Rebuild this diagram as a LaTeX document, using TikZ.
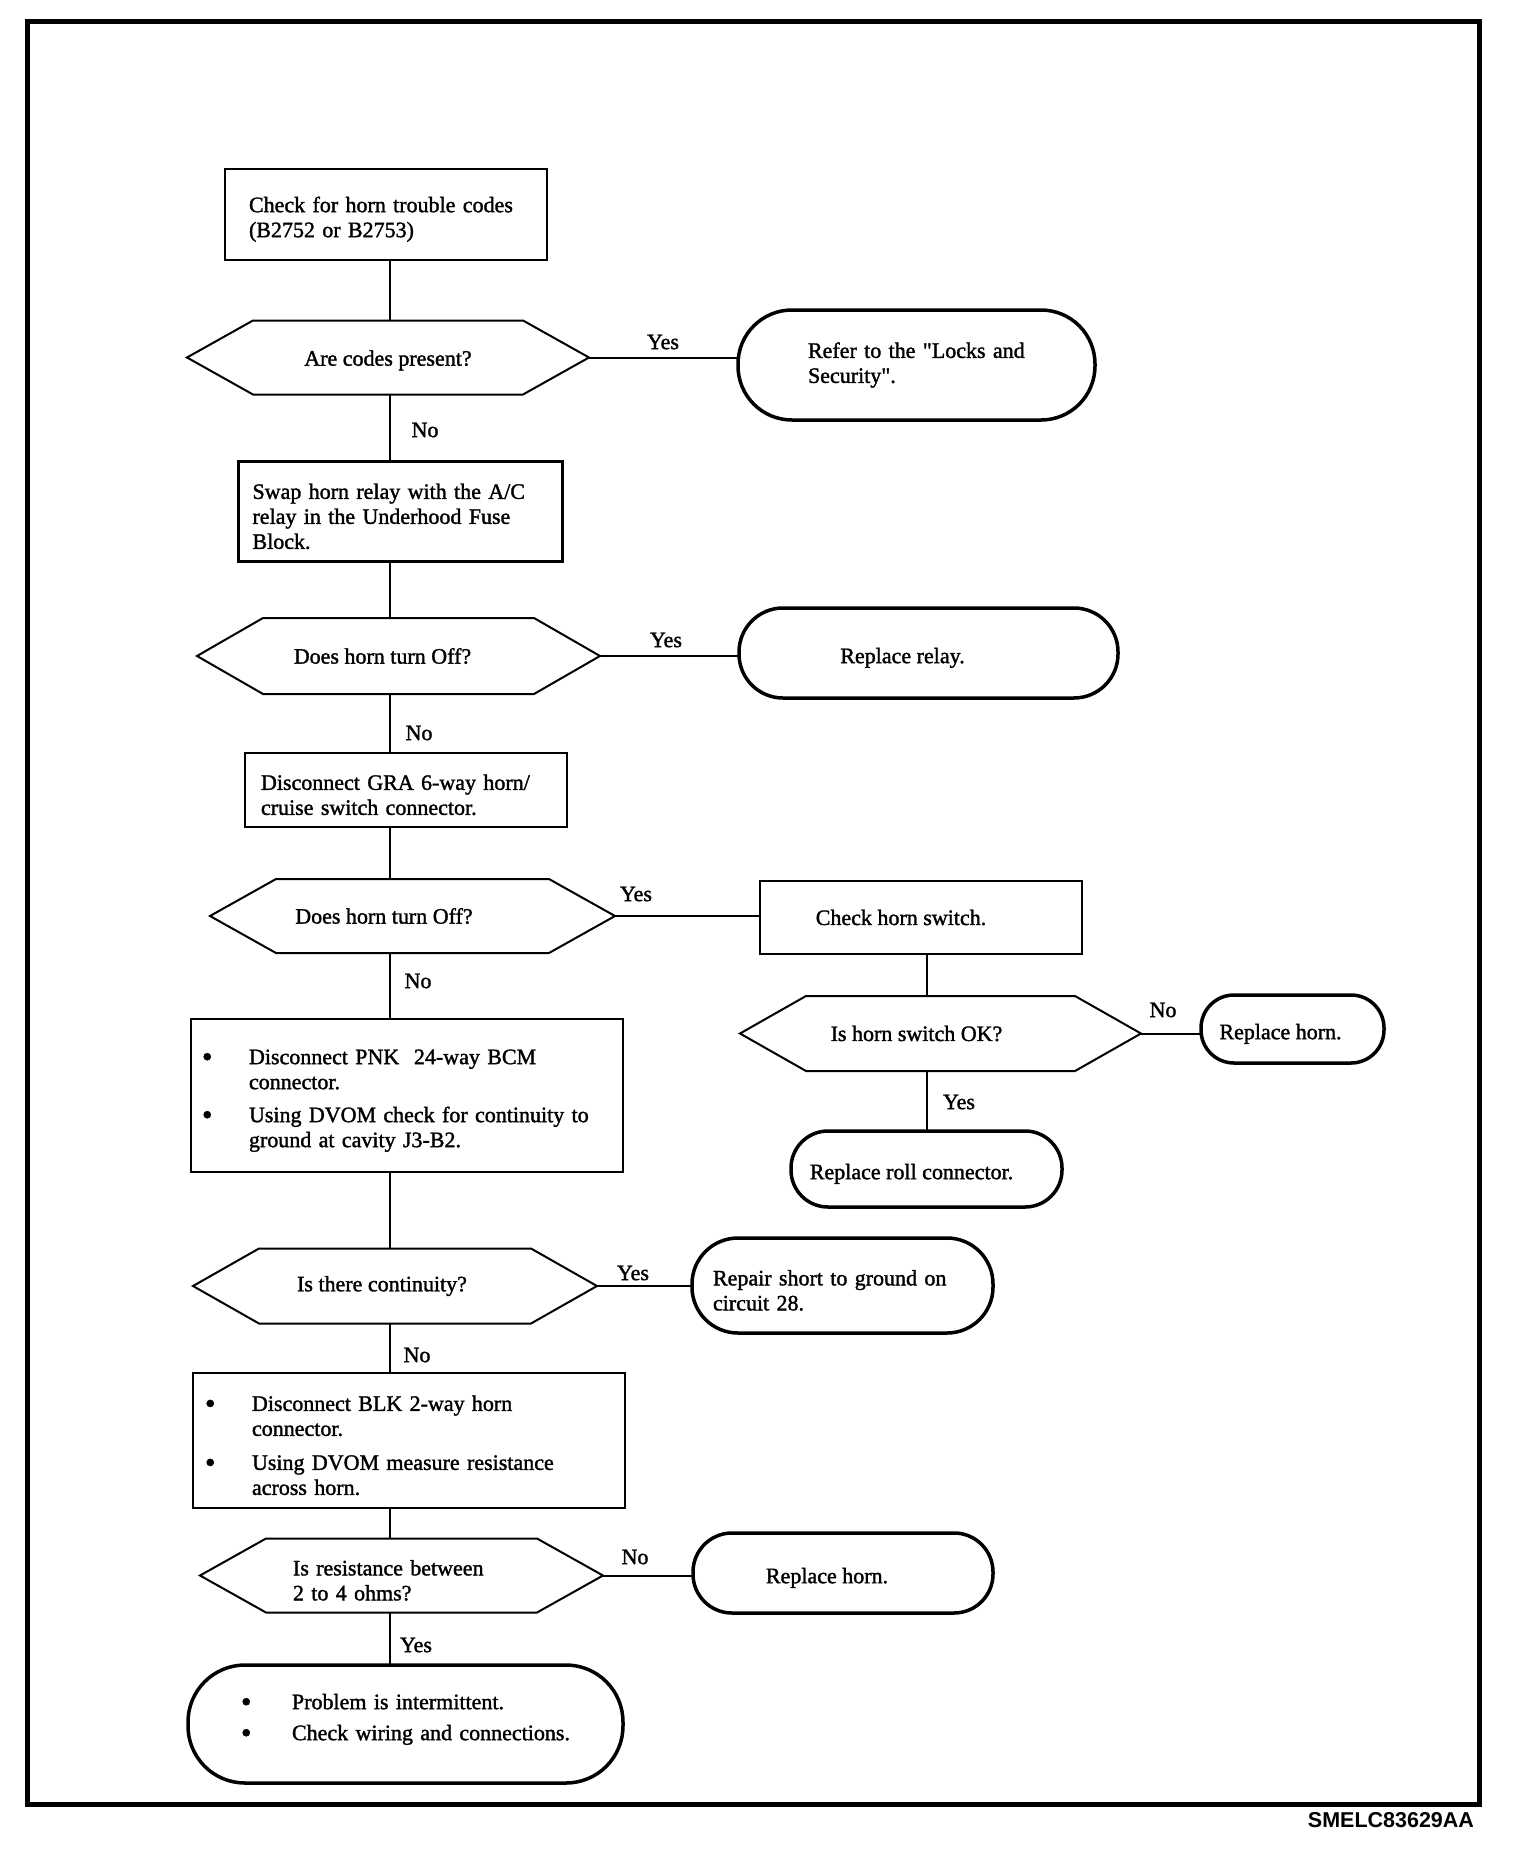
\documentclass[tikz,border=0pt]{standalone}
\usepackage{fontspec}
\setmainfont{Liberation Serif}[FakeBold=1.5, Ligatures=TeXOff]
\newfontfamily\tagfont{Liberation Sans}
\usetikzlibrary{calc}

\newcommand\hexdraw[1]{\draw[hexline] (#1.west) -- ([xshift=66pt]#1.north west) -- ([xshift=-66pt]#1.north east) -- (#1.east) -- ([xshift=-66pt]#1.south east) -- ([xshift=66pt]#1.south west) -- cycle;}
\newcommand\bul[1][47pt]{\makebox[#1][l]{\raisebox{-2.5pt}{\fontsize{30}{30}\selectfont\textbullet}}}
\newcommand\hang[1][47pt]{\hspace*{#1}}

\begin{document}
\begin{tikzpicture}[x=1pt,y=-1pt,
  every node/.style={font=\fontsize{22}{25}\selectfont, inner sep=0pt, outer sep=0pt},
  txtdown/.style={execute at begin node={\rule{0pt}{25pt}}},
  box/.style={draw, line width=2.5pt, rectangle, align=left, txtdown},
  cbox/.style={draw, line width=2.5pt, rectangle, align=center},
  term/.style={draw, line width=3.5pt, rectangle, align=left},
  cterm/.style={draw, line width=3.5pt, rectangle, align=center, txtdown},
  hexnode/.style={rectangle, align=center},
  hexline/.style={line width=2pt, line join=miter},
  conn/.style={line width=2pt}]

\useasboundingbox (0,0) rectangle (1520,1854);

% frame
\draw[line width=5pt] (27,22) rectangle (1479,1804);
\node[font={\fontsize{21.5}{22}\tagfont\bfseries}, anchor=east] (tag) at (1474,1820) {SMELC83629AA};

% spine coordinates
\coordinate (sp) at (390,0);
\coordinate (sp2) at (927,0);

% main column
\node[box, minimum height=91, text width=274, inner xsep=24] (b1) at (386,214.5)
  {Check for horn trouble codes\\(B2752 or B2753)};

\node[hexnode, minimum width=402, minimum height=74] (h1) at (388,357.5) {\rule{0pt}{21pt}Are codes present?};
\hexdraw{h1}

\node[term, rounded corners=54, minimum height=110, text width=217, inner xsep=70] (t1) at (916.5,365)
  {\mbox{Refer to the "Locks and}\\\mbox{Security".}};

\node[box, minimum height=100, text width=296, inner xsep=14] (b2) at (400.5,511.5)
  {Swap horn relay with the A/C\\relay in the Underhood Fuse\\Block.};

\node[hexnode, minimum width=403, minimum height=76] (h2) at (398.5,656) {\hspace*{-32pt}Does horn turn Off?};
\hexdraw{h2}

\node[cterm, rounded corners=44, minimum height=90, minimum width=379] (t2) at (928.5,653)
  {\hspace*{-52pt}Replace relay.};

\node[box, minimum height=74, text width=290, inner xsep=16] (b3) at (406,790)
  {Disconnect GRA 6-way horn/\\cruise switch connector.};

\node[hexnode, minimum width=405, minimum height=74] (h3) at (412.5,916) {\hspace*{-57pt}Does horn turn Off?};
\hexdraw{h3}

\node[cbox, minimum height=73, minimum width=322] (b4) at (921,917.5)
  {\hspace*{-40pt}Check horn switch.};

\node[hexnode, minimum width=401, minimum height=75] (h4) at (940.5,1033.5) {\hspace*{-48pt}Is horn switch OK?};
\hexdraw{h4}

\node[cterm, rounded corners=33, minimum height=68, minimum width=183] (t4) at (1292.5,1029)
  {\hspace*{-24pt}Replace horn.};

\node[cterm, rounded corners=37, minimum height=76, minimum width=271] (t5) at (926.5,1169)
  {\hspace*{-30pt}Replace roll connector.};

\node[box, minimum height=153, text width=410, inner xsep=11] (b5) at (407,1095.5)
  {\bul Disconnect PNK\ \ 24-way BCM\\\hang connector.\\[8pt]\bul Using DVOM check for continuity to\\\hang ground at cavity J3-B2.};

\node[hexnode, minimum width=404, minimum height=75] (h5) at (395,1286) {\hspace*{-26pt}Is there continuity?};
\hexdraw{h5}

\node[term, txtdown, rounded corners=46, minimum height=95, text width=259, inner xsep=21] (t6) at (842.5,1285.5)
  {Repair short to ground on\\circuit 28.};

\node[box, minimum height=135, text width=408, inner xsep=12] (b6) at (409,1440.5)
  {\bul Disconnect BLK 2-way horn\\\hang connector.\\[9pt]\bul Using DVOM measure resistance\\\hang across horn.};

\node[hexnode, txtdown, align=left, minimum width=403, minimum height=74, text width=217, inner xsep=93] (h6) at (401.5,1575.5)
  {Is resistance between\\2 to 4 ohms?};
\hexdraw{h6}

\node[cterm, rounded corners=39, minimum height=80, minimum width=300] (t7) at (843,1573)
  {\hspace*{-32pt}Replace horn.};

\node[term, rounded corners=57, minimum height=118, text width=329, inner xsep=53,
  execute at end node={\rule[-14pt]{0pt}{14pt}}] (t8) at (405.5,1724)
  {\bul[51pt]Problem is intermittent.\\[6pt]\bul[51pt]Check wiring and connections.};

% vertical connectors (main column)
\draw[conn] (b1.south -| sp) -- (h1.north -| sp);
\draw[conn] (h1.south -| sp) -- (b2.north -| sp);
\draw[conn] (b2.south -| sp) -- (h2.north -| sp);
\draw[conn] (h2.south -| sp) -- (b3.north -| sp);
\draw[conn] (b3.south -| sp) -- (h3.north -| sp);
\draw[conn] (h3.south -| sp) -- (b5.north -| sp);
\draw[conn] (b5.south -| sp) -- (h5.north -| sp);
\draw[conn] (h5.south -| sp) -- (b6.north -| sp);
\draw[conn] (b6.south -| sp) -- (h6.north -| sp);
\draw[conn] (h6.south -| sp) -- (t8.north -| sp);
% right column
\draw[conn] (b4.south -| sp2) -- (h4.north -| sp2);
\draw[conn] (h4.south -| sp2) -- (t5.north -| sp2);
% horizontal connectors
\draw[conn] (h1.east) -- (h1.east -| t1.west);
\draw[conn] (h2.east) -- (h2.east -| t2.west);
\draw[conn] (h3.east) -- (h3.east -| b4.west);
\draw[conn] (h4.east) -- (h4.east -| t4.west);
\draw[conn] (h5.east) -- (h5.east -| t6.west);
\draw[conn] (h6.east) -- (h6.east -| t7.west);

% labels
\node (ly1) at (663,342) {Yes};
\node (ln1) at (425,430) {No};
\node (ly2) at (666,640) {Yes};
\node (ln2) at (419,733) {No};
\node (ly3) at (636,894) {Yes};
\node (ln3) at (418,981) {No};
\node (ln4) at (1163,1010) {No};
\node (ly4) at (959,1102) {Yes};
\node (ly5) at (633,1273) {Yes};
\node (ln5) at (417,1355) {No};
\node (ln6) at (635,1557) {No};
\node (ly6) at (416,1645) {Yes};
\end{tikzpicture}
\end{document}
